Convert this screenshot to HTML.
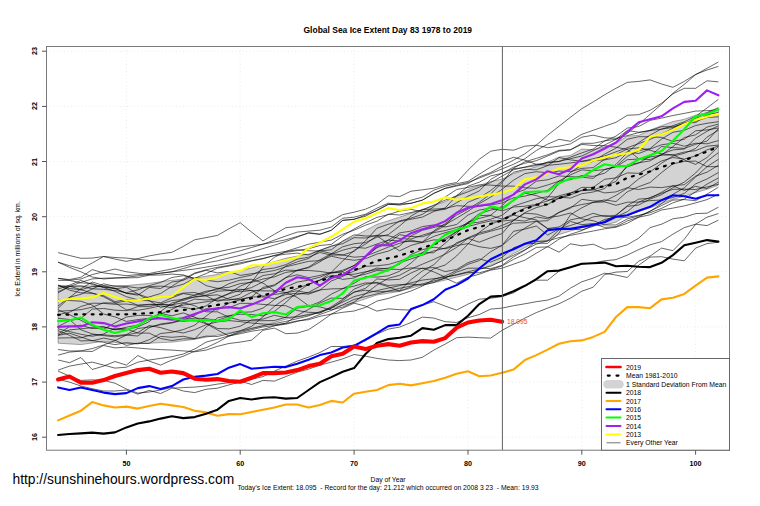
<!DOCTYPE html><html><head><meta charset="utf-8"><title>Global Sea Ice Extent</title><style>
html,body{margin:0;padding:0;background:#fff}
#c{position:relative;width:760px;height:506px;overflow:hidden;background:#fff;font-family:"Liberation Sans",Arial,sans-serif;color:#000}
.t{position:absolute;white-space:nowrap;line-height:1}
.c{transform:translateX(-50%)}
.r{transform:translate(-50%,-50%) rotate(-90deg)}
</style></head><body><div id="c">
<svg width="760" height="506" viewBox="0 0 760 506" style="position:absolute;left:0;top:0">
<line x1="46.5" x2="729.5" y1="437.2" y2="437.2" stroke="#e9e9e9" stroke-width="0.9" stroke-dasharray="1 2.5"/>
<line x1="46.5" x2="729.5" y1="382.1" y2="382.1" stroke="#e9e9e9" stroke-width="0.9" stroke-dasharray="1 2.5"/>
<line x1="46.5" x2="729.5" y1="326.9" y2="326.9" stroke="#e9e9e9" stroke-width="0.9" stroke-dasharray="1 2.5"/>
<line x1="46.5" x2="729.5" y1="271.8" y2="271.8" stroke="#e9e9e9" stroke-width="0.9" stroke-dasharray="1 2.5"/>
<line x1="46.5" x2="729.5" y1="216.7" y2="216.7" stroke="#e9e9e9" stroke-width="0.9" stroke-dasharray="1 2.5"/>
<line x1="46.5" x2="729.5" y1="161.5" y2="161.5" stroke="#e9e9e9" stroke-width="0.9" stroke-dasharray="1 2.5"/>
<line x1="46.5" x2="729.5" y1="106.4" y2="106.4" stroke="#e9e9e9" stroke-width="0.9" stroke-dasharray="1 2.5"/>
<line x1="46.5" x2="729.5" y1="51.2" y2="51.2" stroke="#e9e9e9" stroke-width="0.9" stroke-dasharray="1 2.5"/>
<line y1="46.5" y2="450" x1="126.4" x2="126.4" stroke="#e9e9e9" stroke-width="0.9" stroke-dasharray="1 2.5"/>
<line y1="46.5" y2="450" x1="240.2" x2="240.2" stroke="#e9e9e9" stroke-width="0.9" stroke-dasharray="1 2.5"/>
<line y1="46.5" y2="450" x1="354.1" x2="354.1" stroke="#e9e9e9" stroke-width="0.9" stroke-dasharray="1 2.5"/>
<line y1="46.5" y2="450" x1="468.0" x2="468.0" stroke="#e9e9e9" stroke-width="0.9" stroke-dasharray="1 2.5"/>
<line y1="46.5" y2="450" x1="581.8" x2="581.8" stroke="#e9e9e9" stroke-width="0.9" stroke-dasharray="1 2.5"/>
<line y1="46.5" y2="450" x1="695.6" x2="695.6" stroke="#e9e9e9" stroke-width="0.9" stroke-dasharray="1 2.5"/>
<path d="M58.1 286.7 L69.5 286.3 L80.9 286.0 L92.2 285.9 L103.6 285.8 L115.0 285.7 L126.4 285.6 L137.8 284.5 L149.2 283.4 L160.6 281.8 L171.9 280.3 L183.3 279.2 L194.7 278.1 L206.1 276.2 L217.5 274.4 L228.9 272.5 L240.2 270.7 L251.6 267.9 L263.0 265.0 L274.4 261.7 L285.8 258.3 L297.2 256.1 L308.6 253.9 L319.9 250.2 L331.3 246.4 L342.7 241.5 L354.1 236.5 L365.5 230.4 L376.9 224.4 L388.3 220.8 L399.6 217.2 L411.0 213.3 L422.4 209.5 L433.8 205.6 L445.2 201.8 L456.6 195.6 L468.0 189.4 L479.3 185.4 L490.7 181.5 L502.1 179.1 L513.5 173.6 L524.9 170.2 L536.3 166.7 L547.6 162.1 L559.0 157.1 L570.4 155.4 L581.8 149.1 L593.2 149.7 L604.6 146.9 L616.0 143.3 L627.3 136.1 L638.7 135.4 L650.1 130.1 L661.5 125.7 L672.9 121.6 L684.3 119.3 L695.6 115.2 L707.0 112.3 L718.4 108.6 L718.4 185.2 L707.0 189.3 L695.6 192.5 L684.3 196.2 L672.9 199.3 L661.5 203.5 L650.1 207.8 L638.7 211.5 L627.3 215.2 L616.0 222.2 L604.6 224.9 L593.2 225.8 L581.8 227.7 L570.4 231.0 L559.0 234.6 L547.6 240.4 L536.3 241.7 L524.9 247.6 L513.5 253.6 L502.1 261.0 L490.7 265.3 L479.3 269.8 L468.0 274.3 L456.6 277.2 L445.2 280.1 L433.8 282.6 L422.4 285.0 L411.0 288.2 L399.6 291.4 L388.3 293.2 L376.9 295.0 L365.5 298.8 L354.1 302.7 L342.7 305.4 L331.3 308.2 L319.9 311.7 L308.6 315.3 L297.2 317.2 L285.8 319.2 L274.4 322.4 L263.0 325.6 L251.6 328.2 L240.2 330.8 L228.9 332.9 L217.5 335.0 L206.1 337.2 L194.7 339.3 L183.3 340.7 L171.9 342.1 L160.6 342.6 L149.2 343.2 L137.8 343.4 L126.4 343.5 L115.0 342.4 L103.6 341.3 L92.2 342.9 L80.9 344.6 L69.5 343.9 L58.1 343.2 Z" fill="#d3d3d3" stroke="#555" stroke-width="0.5"/>
<path d="M58.1 252.6 L69.5 255.5 L80.9 258.3 L92.2 258.1 L103.6 256.5 L115.0 259.1 L126.4 261.4 L137.8 258.6 L149.2 255.9 L160.6 253.9 L171.9 252.3 L183.3 246.4 L194.7 239.8 L206.1 237.6 L217.5 235.4 L228.9 228.8 L240.2 222.7 L251.6 232.1 L263.0 240.9 L274.4 234.3 L285.8 227.7 L297.2 226.6 L308.6 225.2 L319.9 223.2 L331.3 221.2 L342.7 214.6 L354.1 212.2 L365.5 209.2 L376.9 204.2 L388.3 195.8 L399.6 196.6 L411.0 191.2 L422.4 189.8 L433.8 188.2 L445.2 184.7 L456.6 182.5 L468.0 170.2 L479.3 159.2 L490.7 151.2 L502.1 149.3 L513.5 150.2 L524.9 146.2 L536.3 145.2 L547.6 147.7 L559.0 146.2 L570.4 143.9 L581.8 137.2 L593.2 135.2 L604.6 137.8 L616.0 138.3 L627.3 135.6 L638.7 132.7 L650.1 130.3 L661.5 129.3 L672.9 125.7 L684.3 121.8 L695.6 116.3 L707.0 108.0 L718.4 99.3" fill="none" stroke="#000" stroke-width="0.6"/>
<path d="M58.1 262.2 L69.5 265.7 L80.9 268.8 L92.2 263.0 L103.6 256.5 L115.0 257.5 L126.4 258.1 L137.8 259.3 L149.2 260.5 L160.6 260.1 L171.9 259.7 L183.3 257.5 L194.7 255.3 L206.1 253.6 L217.5 251.9 L228.9 249.5 L240.2 247.0 L251.6 245.6 L263.0 244.2 L274.4 242.0 L285.8 239.8 L297.2 236.5 L308.6 233.2 L319.9 234.3 L331.3 230.4 L342.7 220.5 L354.1 219.4 L365.5 215.0 L376.9 210.6 L388.3 204.5 L399.6 204.0 L411.0 203.4 L422.4 200.1 L433.8 193.5 L445.2 188.5 L456.6 186.0 L468.0 183.6 L479.3 176.9 L490.7 172.5 L502.1 166.2 L513.5 160.2 L524.9 153.8 L536.3 145.2 L547.6 135.2 L559.0 126.3 L570.4 117.3 L581.8 108.7 L593.2 101.9 L604.6 94.8 L616.0 88.3 L627.3 82.4 L638.7 81.4 L650.1 79.9 L661.5 84.0 L672.9 87.3 L684.3 81.4 L695.6 74.4 L707.0 70.0 L718.4 66.4" fill="none" stroke="#000" stroke-width="0.6"/>
<path d="M58.1 278.3 L69.5 280.2 L80.9 279.0 L92.2 274.6 L103.6 271.8 L115.0 269.0 L126.4 271.8 L137.8 273.2 L149.2 274.6 L160.6 273.2 L171.9 271.8 L183.3 270.4 L194.7 269.0 L206.1 267.1 L217.5 265.2 L228.9 263.0 L240.2 260.8 L251.6 258.0 L263.0 255.3 L274.4 253.3 L285.8 251.4 L297.2 247.8 L308.6 244.2 L319.9 242.2 L331.3 240.1 L342.7 234.2 L354.1 230.2 L365.5 225.2 L376.9 221.2 L388.3 214.2 L399.6 215.0 L411.0 212.5 L422.4 210.0 L433.8 205.1 L445.2 200.1 L456.6 196.0 L468.0 191.8 L479.3 187.1 L490.7 182.5 L502.1 176.1 L513.5 169.8 L524.9 167.0 L536.3 164.3 L547.6 162.9 L559.0 161.5 L570.4 158.7 L581.8 156.0 L593.2 150.5 L604.6 145.0 L616.0 139.4 L627.3 133.4 L638.7 124.3 L650.1 114.3 L661.5 104.3 L672.9 93.3 L684.3 84.3 L695.6 74.7 L707.0 68.3 L718.4 62.0" fill="none" stroke="#000" stroke-width="0.6"/>
<path d="M58.1 262.2 L69.5 267.4 L80.9 271.8 L92.2 277.0 L103.6 279.0 L115.0 278.1 L126.4 277.3 L137.8 275.9 L149.2 274.6 L160.6 273.2 L171.9 271.8 L183.3 268.5 L194.7 265.2 L206.1 263.0 L217.5 260.8 L228.9 258.0 L240.2 255.3 L251.6 251.9 L263.0 248.6 L274.4 245.1 L285.8 241.5 L297.2 237.2 L308.6 232.6 L319.9 234.2 L331.3 230.2 L342.7 220.2 L354.1 219.2 L365.5 216.2 L376.9 210.2 L388.3 204.2 L399.6 205.1 L411.0 203.2 L422.4 200.2 L433.8 193.2 L445.2 188.2 L456.6 185.3 L468.0 182.5 L479.3 178.0 L490.7 173.6 L502.1 168.9 L513.5 164.3 L524.9 158.7 L536.3 150.5 L547.6 144.2 L559.0 139.3 L570.4 141.3 L581.8 134.3 L593.2 130.3 L604.6 126.3 L616.0 122.3 L627.3 115.3 L638.7 114.7 L650.1 110.3 L661.5 103.3 L672.9 93.9 L684.3 88.3 L695.6 88.3 L707.0 80.8 L718.4 81.9" fill="none" stroke="#000" stroke-width="0.6"/>
<path d="M58.1 278.4 L69.5 279.5 L80.9 277.3 L92.2 269.6 L103.6 272.9 L115.0 274.3 L126.4 275.7 L137.8 274.6 L149.2 273.5 L160.6 271.2 L171.9 269.0 L183.3 266.3 L194.7 263.5 L206.1 259.9 L217.5 256.4 L228.9 253.6 L240.2 250.8 L251.6 247.5 L263.0 244.2 L274.4 240.1 L285.8 236.0 L297.2 232.1 L308.6 231.1 L319.9 230.2 L331.3 227.1 L342.7 218.2 L354.1 217.2 L365.5 214.2 L376.9 208.2 L388.3 203.2 L399.6 204.2 L411.0 200.2 L422.4 197.2 L433.8 190.2 L445.2 186.2 L456.6 183.8 L468.0 181.4 L479.3 174.2 L490.7 167.0 L502.1 161.5 L513.5 157.3 L524.9 160.2 L536.3 164.3 L547.6 165.3 L559.0 164.3 L570.4 162.9 L581.8 161.5 L593.2 158.7 L604.6 156.0 L616.0 151.8 L627.3 147.7 L638.7 143.6 L650.1 139.4 L661.5 133.9 L672.9 128.4 L684.3 123.4 L695.6 118.5 L707.0 113.0 L718.4 107.5" fill="none" stroke="#000" stroke-width="0.6"/>
<path d="M58.1 355.1 L69.5 352.1 L80.9 351.1 L92.2 351.5 L103.6 345.5 L115.0 347.9 L126.4 347.1 L137.8 348.0 L149.2 349.0 L160.6 349.6 L171.9 350.1 L183.3 350.9 L194.7 351.8 L206.1 350.1 L217.5 346.3 L228.9 343.5 L240.2 342.1 L251.6 340.2 L263.0 330.3 L274.4 328.1 L285.8 333.7 L297.2 333.1 L308.6 329.7 L319.9 322.2 L331.3 314.2 L342.7 308.2 L354.1 303.2 L365.5 306.1 L376.9 311.1 L388.3 308.8 L399.6 309.7 L411.0 310.1 L422.4 305.1 L433.8 301.7 L445.2 306.1 L456.6 310.1 L468.0 304.1 L479.3 299.2 L490.7 298.2 L502.1 296.6 L513.5 292.8 L524.9 286.1 L536.3 280.2 L547.6 280.2 L559.0 271.2 L570.4 267.4 L581.8 264.1 L593.2 263.0 L604.6 260.8 L616.0 259.6 L627.3 255.1 L638.7 249.6 L650.1 244.8 L661.5 241.6 L672.9 234.2 L684.3 227.6 L695.6 224.2 L707.0 217.2 L718.4 213.6" fill="none" stroke="#000" stroke-width="0.6"/>
<path d="M58.1 360.0 L69.5 362.7 L80.9 357.5 L92.2 369.5 L103.6 366.1 L115.0 361.5 L126.4 365.1 L137.8 355.5 L149.2 361.1 L160.6 365.1 L171.9 360.0 L183.3 356.2 L194.7 351.2 L206.1 347.7 L217.5 342.4 L228.9 336.1 L240.2 332.5 L251.6 329.7 L263.0 326.9 L274.4 325.6 L285.8 324.2 L297.2 321.4 L308.6 318.7 L319.9 314.5 L331.3 310.4 L342.7 304.9 L354.1 299.4 L365.5 296.6 L376.9 293.9 L388.3 291.1 L399.6 288.3 L411.0 286.1 L422.4 283.9 L433.8 281.0 L445.2 278.1 L456.6 283.2 L468.0 277.3 L479.3 274.2 L490.7 270.1 L502.1 268.2 L513.5 264.2 L524.9 260.2 L536.3 253.2 L547.6 246.6 L559.0 252.2 L570.4 243.8 L581.8 245.8 L593.2 244.2 L604.6 249.2 L616.0 248.1 L627.3 244.8 L638.7 238.2 L650.1 227.6 L661.5 224.2 L672.9 218.8 L684.3 217.2 L695.6 213.6 L707.0 213.2 L718.4 207.2" fill="none" stroke="#000" stroke-width="0.6"/>
<path d="M58.1 370.1 L69.5 366.1 L80.9 364.1 L92.2 362.1 L103.6 365.1 L115.0 368.1 L126.4 367.2 L137.8 362.2 L149.2 360.0 L160.6 358.4 L171.9 356.7 L183.3 354.0 L194.7 349.0 L206.1 342.1 L217.5 339.1 L228.9 335.8 L240.2 331.4 L251.6 328.6 L263.0 325.8 L274.4 323.6 L285.8 321.4 L297.2 318.7 L308.6 315.9 L319.9 311.8 L331.3 307.6 L342.7 302.1 L354.1 296.6 L365.5 293.6 L376.9 290.6 L388.3 288.1 L399.6 285.6 L411.0 282.8 L422.4 280.1 L433.8 278.7 L445.2 277.3 L456.6 274.6 L468.0 271.8 L479.3 269.0 L490.7 266.3 L502.1 260.8 L513.5 255.3 L524.9 249.7 L536.3 244.2 L547.6 240.9 L559.0 237.6 L570.4 235.4 L581.8 233.2 L593.2 231.0 L604.6 228.8 L616.0 227.2 L627.3 223.3 L638.7 217.2 L650.1 211.1 L661.5 205.6 L672.9 200.1 L684.3 199.6 L695.6 200.7 L707.0 194.2 L718.4 187.2" fill="none" stroke="#000" stroke-width="0.6"/>
<path d="M58.1 371.1 L69.5 376.1 L80.9 380.4 L92.2 379.9 L103.6 380.4 L115.0 383.2 L126.4 389.0 L137.8 393.1 L149.2 392.0 L160.6 390.0 L171.9 387.4 L183.3 391.0 L194.7 392.6 L206.1 389.3 L217.5 388.2 L228.9 384.9 L240.2 382.1 L251.6 379.3 L263.0 376.6 L274.4 371.1 L285.8 366.1 L297.2 361.1 L308.6 357.1 L319.9 352.5 L331.3 346.5 L342.7 346.5 L354.1 345.1 L365.5 340.7 L376.9 334.1 L388.3 329.1 L399.6 327.1 L411.0 322.5 L422.4 317.1 L433.8 318.1 L445.2 321.7 L456.6 322.5 L468.0 317.7 L479.3 314.5 L490.7 309.1 L502.1 308.1 L513.5 305.7 L524.9 303.8 L536.3 301.7 L547.6 300.1 L559.0 296.2 L570.4 288.2 L581.8 281.8 L593.2 278.1 L604.6 273.2 L616.0 275.1 L627.3 277.5 L638.7 265.2 L650.1 257.1 L661.5 256.7 L672.9 259.1 L684.3 260.8 L695.6 248.1 L707.0 243.6 L718.4 242.2" fill="none" stroke="#000" stroke-width="0.6"/>
<path d="M58.1 379.3 L69.5 382.1 L80.9 386.0 L92.2 388.7 L103.6 391.0 L115.0 391.0 L126.4 390.0 L137.8 394.1 L149.2 390.4 L160.6 393.5 L171.9 388.2 L183.3 387.6 L194.7 387.1 L206.1 386.0 L217.5 384.1 L228.9 382.7 L240.2 381.1 L251.6 384.5 L263.0 380.4 L274.4 381.1 L285.8 376.6 L297.2 372.1 L308.6 369.1 L319.9 365.1 L331.3 362.2 L342.7 358.9 L354.1 354.5 L365.5 356.2 L376.9 358.4 L388.3 360.0 L399.6 360.6 L411.0 360.0 L422.4 357.3 L433.8 350.1 L445.2 344.1 L456.6 337.7 L468.0 337.1 L479.3 337.7 L490.7 338.1 L502.1 330.3 L513.5 324.2 L524.9 318.1 L536.3 312.6 L547.6 308.1 L559.0 303.8 L570.4 298.2 L581.8 291.2 L593.2 287.2 L604.6 274.6 L616.0 272.1 L627.3 271.5 L638.7 261.2 L650.1 256.1 L661.5 248.1 L672.9 250.7 L684.3 239.2 L695.6 224.2 L707.0 225.6 L718.4 220.2" fill="none" stroke="#000" stroke-width="0.6"/>
<path d="M58.1 349.5 L69.5 351.0 L80.9 350.9 L92.2 348.6 L103.6 345.0 L115.0 340.5 L126.4 335.1 L137.8 332.6 L149.2 325.5 L160.6 327.6 L171.9 331.0 L183.3 333.0 L194.7 329.7 L206.1 324.7 L217.5 321.9 L228.9 320.6 L240.2 321.6 L251.6 323.0 L263.0 324.0 L274.4 324.8 L285.8 323.4 L297.2 320.9 L308.6 319.7 L319.9 316.3 L331.3 314.1 L342.7 312.3 L354.1 311.0 L365.5 307.4 L376.9 301.1 L388.3 298.4 L399.6 294.7 L411.0 291.0 L422.4 286.1 L433.8 279.4 L445.2 275.9 L456.6 270.6 L468.0 264.3 L479.3 260.6 L490.7 251.7 L502.1 245.3 L513.5 231.3 L524.9 229.1 L536.3 226.0 L547.6 235.1 L559.0 228.8 L570.4 225.5 L581.8 221.7 L593.2 216.9 L604.6 215.4 L616.0 217.2 L627.3 217.3 L638.7 215.3 L650.1 212.7 L661.5 208.4 L672.9 202.8 L684.3 199.1 L695.6 191.8 L707.0 184.1 L718.4 178.0" fill="none" stroke="#000" stroke-width="0.6"/>
<path d="M58.1 328.8 L69.5 331.6 L80.9 334.3 L92.2 336.3 L103.6 334.0 L115.0 328.1 L126.4 328.9 L137.8 333.1 L149.2 333.1 L160.6 338.5 L171.9 340.5 L183.3 338.8 L194.7 338.9 L206.1 327.0 L217.5 317.9 L228.9 315.6 L240.2 314.2 L251.6 314.5 L263.0 315.9 L274.4 311.3 L285.8 302.5 L297.2 292.0 L308.6 284.3 L319.9 280.0 L331.3 275.6 L342.7 279.4 L354.1 278.0 L365.5 272.3 L376.9 268.0 L388.3 269.1 L399.6 269.5 L411.0 267.9 L422.4 268.5 L433.8 267.5 L445.2 271.6 L456.6 269.5 L468.0 262.7 L479.3 258.9 L490.7 262.1 L502.1 257.3 L513.5 247.8 L524.9 244.1 L536.3 243.1 L547.6 243.4 L559.0 233.0 L570.4 214.8 L581.8 207.8 L593.2 202.2 L604.6 199.9 L616.0 201.6 L627.3 191.8 L638.7 186.7 L650.1 182.5 L661.5 172.6 L672.9 163.8 L684.3 161.4 L695.6 161.1 L707.0 166.7 L718.4 166.6" fill="none" stroke="#000" stroke-width="0.6"/>
<path d="M58.1 335.2 L69.5 329.9 L80.9 328.8 L92.2 327.6 L103.6 329.3 L115.0 322.9 L126.4 317.0 L137.8 315.4 L149.2 315.4 L160.6 318.3 L171.9 319.2 L183.3 321.4 L194.7 320.0 L206.1 323.8 L217.5 329.9 L228.9 336.1 L240.2 333.7 L251.6 331.2 L263.0 329.5 L274.4 325.8 L285.8 323.2 L297.2 315.5 L308.6 309.3 L319.9 303.0 L331.3 298.1 L342.7 298.4 L354.1 292.3 L365.5 288.3 L376.9 278.9 L388.3 279.9 L399.6 279.3 L411.0 273.0 L422.4 268.0 L433.8 271.9 L445.2 277.1 L456.6 275.1 L468.0 272.4 L479.3 272.8 L490.7 269.6 L502.1 266.0 L513.5 259.4 L524.9 254.0 L536.3 247.4 L547.6 246.9 L559.0 239.1 L570.4 234.3 L581.8 230.6 L593.2 225.0 L604.6 219.5 L616.0 216.8 L627.3 211.7 L638.7 202.2 L650.1 197.4 L661.5 193.3 L672.9 189.3 L684.3 189.2 L695.6 189.5 L707.0 186.9 L718.4 184.3" fill="none" stroke="#000" stroke-width="0.6"/>
<path d="M58.1 334.0 L69.5 326.7 L80.9 325.2 L92.2 328.6 L103.6 326.7 L115.0 329.8 L126.4 327.2 L137.8 325.2 L149.2 319.5 L160.6 313.4 L171.9 315.8 L183.3 312.9 L194.7 317.1 L206.1 323.1 L217.5 328.5 L228.9 328.9 L240.2 326.2 L251.6 319.9 L263.0 319.1 L274.4 315.3 L285.8 317.6 L297.2 316.7 L308.6 314.4 L319.9 313.1 L331.3 306.8 L342.7 299.3 L354.1 289.2 L365.5 284.3 L376.9 282.3 L388.3 285.5 L399.6 284.7 L411.0 284.1 L422.4 285.1 L433.8 282.5 L445.2 278.0 L456.6 272.1 L468.0 268.2 L479.3 268.2 L490.7 268.6 L502.1 265.3 L513.5 256.9 L524.9 250.3 L536.3 241.4 L547.6 241.2 L559.0 229.7 L570.4 221.4 L581.8 224.7 L593.2 223.5 L604.6 227.4 L616.0 226.7 L627.3 220.9 L638.7 217.2 L650.1 214.8 L661.5 210.0 L672.9 208.1 L684.3 205.9 L695.6 202.9 L707.0 199.6 L718.4 194.2" fill="none" stroke="#000" stroke-width="0.6"/>
<path d="M58.1 330.7 L69.5 335.3 L80.9 340.9 L92.2 340.6 L103.6 342.3 L115.0 344.7 L126.4 342.6 L137.8 343.9 L149.2 339.7 L160.6 333.5 L171.9 332.3 L183.3 329.6 L194.7 325.2 L206.1 316.1 L217.5 307.7 L228.9 307.7 L240.2 303.3 L251.6 303.4 L263.0 304.4 L274.4 305.4 L285.8 305.7 L297.2 310.5 L308.6 312.3 L319.9 312.8 L331.3 308.4 L342.7 300.7 L354.1 291.9 L365.5 290.3 L376.9 291.9 L388.3 291.2 L399.6 290.8 L411.0 279.6 L422.4 270.9 L433.8 264.7 L445.2 253.4 L456.6 242.7 L468.0 238.4 L479.3 234.3 L490.7 231.2 L502.1 228.1 L513.5 223.2 L524.9 222.7 L536.3 221.2 L547.6 228.5 L559.0 227.0 L570.4 219.9 L581.8 217.6 L593.2 213.3 L604.6 216.7 L616.0 215.1 L627.3 206.4 L638.7 205.0 L650.1 199.1 L661.5 194.7 L672.9 187.7 L684.3 182.1 L695.6 173.0 L707.0 161.1 L718.4 152.7" fill="none" stroke="#000" stroke-width="0.6"/>
<path d="M58.1 314.7 L69.5 312.2 L80.9 306.5 L92.2 303.2 L103.6 303.4 L115.0 304.3 L126.4 304.0 L137.8 305.4 L149.2 304.8 L160.6 304.3 L171.9 304.8 L183.3 302.7 L194.7 305.7 L206.1 311.8 L217.5 311.8 L228.9 317.2 L240.2 320.3 L251.6 320.8 L263.0 320.7 L274.4 320.5 L285.8 317.2 L297.2 308.1 L308.6 306.4 L319.9 301.8 L331.3 294.2 L342.7 288.6 L354.1 283.3 L365.5 276.6 L376.9 277.1 L388.3 275.8 L399.6 271.2 L411.0 263.1 L422.4 252.6 L433.8 244.3 L445.2 238.3 L456.6 231.5 L468.0 226.5 L479.3 223.5 L490.7 220.9 L502.1 221.1 L513.5 219.9 L524.9 221.1 L536.3 216.9 L547.6 218.8 L559.0 212.3 L570.4 207.2 L581.8 204.5 L593.2 202.5 L604.6 201.9 L616.0 205.3 L627.3 202.2 L638.7 202.1 L650.1 200.6 L661.5 200.0 L672.9 197.5 L684.3 193.4 L695.6 183.9 L707.0 179.0 L718.4 172.5" fill="none" stroke="#000" stroke-width="0.6"/>
<path d="M58.1 326.5 L69.5 320.7 L80.9 318.4 L92.2 309.1 L103.6 308.5 L115.0 310.2 L126.4 310.7 L137.8 306.6 L149.2 306.6 L160.6 304.1 L171.9 300.5 L183.3 299.5 L194.7 294.9 L206.1 291.2 L217.5 289.7 L228.9 283.7 L240.2 280.1 L251.6 279.3 L263.0 283.1 L274.4 290.6 L285.8 292.5 L297.2 297.4 L308.6 305.8 L319.9 306.9 L331.3 309.9 L342.7 307.1 L354.1 302.0 L365.5 293.8 L376.9 285.0 L388.3 278.3 L399.6 275.3 L411.0 269.1 L422.4 264.2 L433.8 259.4 L445.2 254.1 L456.6 247.4 L468.0 238.4 L479.3 242.2 L490.7 237.7 L502.1 233.6 L513.5 220.2 L524.9 213.2 L536.3 214.1 L547.6 217.6 L559.0 216.0 L570.4 213.0 L581.8 218.9 L593.2 220.7 L604.6 224.9 L616.0 225.0 L627.3 218.9 L638.7 215.9 L650.1 211.4 L661.5 203.8 L672.9 194.3 L684.3 187.8 L695.6 177.0 L707.0 166.7 L718.4 159.3" fill="none" stroke="#000" stroke-width="0.6"/>
<path d="M58.1 335.4 L69.5 333.2 L80.9 337.0 L92.2 340.8 L103.6 338.1 L115.0 340.3 L126.4 345.4 L137.8 343.2 L149.2 343.5 L160.6 336.4 L171.9 337.3 L183.3 336.3 L194.7 338.7 L206.1 336.1 L217.5 336.5 L228.9 333.8 L240.2 330.8 L251.6 326.4 L263.0 316.8 L274.4 306.3 L285.8 298.3 L297.2 294.6 L308.6 292.3 L319.9 286.3 L331.3 276.0 L342.7 274.7 L354.1 274.2 L365.5 271.8 L376.9 269.5 L388.3 268.1 L399.6 264.2 L411.0 254.5 L422.4 249.6 L433.8 247.2 L445.2 248.8 L456.6 245.6 L468.0 243.6 L479.3 246.7 L490.7 248.4 L502.1 245.6 L513.5 235.7 L524.9 228.1 L536.3 221.3 L547.6 220.7 L559.0 212.5 L570.4 208.1 L581.8 199.3 L593.2 200.9 L604.6 201.2 L616.0 195.4 L627.3 188.3 L638.7 178.9 L650.1 172.1 L661.5 163.2 L672.9 156.1 L684.3 153.3 L695.6 148.5 L707.0 137.1 L718.4 130.2" fill="none" stroke="#000" stroke-width="0.6"/>
<path d="M58.1 338.0 L69.5 337.8 L80.9 337.8 L92.2 334.7 L103.6 334.8 L115.0 335.7 L126.4 334.6 L137.8 328.5 L149.2 327.0 L160.6 324.7 L171.9 323.0 L183.3 320.0 L194.7 315.3 L206.1 308.7 L217.5 309.9 L228.9 303.0 L240.2 299.8 L251.6 296.9 L263.0 287.4 L274.4 284.9 L285.8 277.5 L297.2 274.8 L308.6 277.7 L319.9 275.4 L331.3 272.5 L342.7 272.0 L354.1 276.7 L365.5 274.2 L376.9 270.6 L388.3 270.9 L399.6 263.0 L411.0 258.9 L422.4 255.1 L433.8 250.9 L445.2 248.1 L456.6 244.0 L468.0 237.7 L479.3 232.9 L490.7 230.0 L502.1 225.4 L513.5 220.7 L524.9 212.6 L536.3 207.6 L547.6 204.4 L559.0 198.2 L570.4 193.4 L581.8 187.4 L593.2 187.4 L604.6 179.3 L616.0 177.9 L627.3 172.9 L638.7 173.3 L650.1 167.3 L661.5 161.0 L672.9 157.5 L684.3 159.1 L695.6 155.9 L707.0 149.9 L718.4 146.0" fill="none" stroke="#000" stroke-width="0.6"/>
<path d="M58.1 309.8 L69.5 314.7 L80.9 320.3 L92.2 326.0 L103.6 327.1 L115.0 329.6 L126.4 329.7 L137.8 326.9 L149.2 321.7 L160.6 311.6 L171.9 302.9 L183.3 300.4 L194.7 296.8 L206.1 295.1 L217.5 291.2 L228.9 290.5 L240.2 289.3 L251.6 290.5 L263.0 296.2 L274.4 294.5 L285.8 292.7 L297.2 290.8 L308.6 293.1 L319.9 289.9 L331.3 288.9 L342.7 288.6 L354.1 286.1 L365.5 282.9 L376.9 283.1 L388.3 286.8 L399.6 291.1 L411.0 287.1 L422.4 277.1 L433.8 268.7 L445.2 265.0 L456.6 256.0 L468.0 244.1 L479.3 232.3 L490.7 224.2 L502.1 219.8 L513.5 215.1 L524.9 217.7 L536.3 219.9 L547.6 228.6 L559.0 229.8 L570.4 229.0 L581.8 229.9 L593.2 226.4 L604.6 221.0 L616.0 215.5 L627.3 205.7 L638.7 199.1 L650.1 198.3 L661.5 192.3 L672.9 185.7 L684.3 184.7 L695.6 176.2 L707.0 172.2 L718.4 165.2" fill="none" stroke="#000" stroke-width="0.6"/>
<path d="M58.1 289.0 L69.5 285.2 L80.9 280.4 L92.2 284.5 L103.6 287.3 L115.0 288.2 L126.4 293.4 L137.8 294.0 L149.2 298.0 L160.6 297.1 L171.9 296.2 L183.3 293.1 L194.7 292.5 L206.1 295.8 L217.5 294.8 L228.9 299.3 L240.2 299.3 L251.6 296.9 L263.0 296.9 L274.4 298.6 L285.8 294.5 L297.2 293.2 L308.6 294.2 L319.9 290.2 L331.3 281.0 L342.7 276.4 L354.1 271.0 L365.5 266.3 L376.9 265.8 L388.3 264.5 L399.6 261.2 L411.0 256.7 L422.4 252.7 L433.8 252.8 L445.2 243.2 L456.6 233.3 L468.0 222.6 L479.3 213.6 L490.7 210.1 L502.1 207.5 L513.5 200.4 L524.9 193.1 L536.3 195.6 L547.6 200.1 L559.0 198.5 L570.4 195.0 L581.8 190.2 L593.2 189.5 L604.6 192.9 L616.0 191.9 L627.3 187.7 L638.7 189.5 L650.1 187.1 L661.5 187.6 L672.9 185.9 L684.3 190.4 L695.6 186.4 L707.0 188.6 L718.4 182.1" fill="none" stroke="#000" stroke-width="0.6"/>
<path d="M58.1 318.2 L69.5 319.5 L80.9 329.8 L92.2 333.9 L103.6 335.6 L115.0 336.9 L126.4 335.1 L137.8 336.0 L149.2 327.7 L160.6 324.0 L171.9 322.4 L183.3 319.5 L194.7 318.1 L206.1 318.7 L217.5 320.4 L228.9 316.4 L240.2 312.4 L251.6 311.9 L263.0 308.1 L274.4 299.6 L285.8 292.9 L297.2 288.4 L308.6 284.1 L319.9 280.3 L331.3 272.7 L342.7 270.2 L354.1 265.7 L365.5 257.2 L376.9 247.3 L388.3 240.2 L399.6 232.9 L411.0 231.1 L422.4 226.6 L433.8 224.9 L445.2 227.0 L456.6 224.5 L468.0 215.0 L479.3 210.1 L490.7 208.0 L502.1 210.9 L513.5 207.0 L524.9 206.2 L536.3 204.5 L547.6 200.9 L559.0 195.8 L570.4 192.8 L581.8 190.7 L593.2 190.0 L604.6 185.8 L616.0 181.5 L627.3 164.9 L638.7 162.8 L650.1 160.9 L661.5 154.2 L672.9 149.9 L684.3 149.0 L695.6 138.2 L707.0 131.3 L718.4 125.8" fill="none" stroke="#000" stroke-width="0.6"/>
<path d="M58.1 311.3 L69.5 310.6 L80.9 309.7 L92.2 307.2 L103.6 302.8 L115.0 303.1 L126.4 300.8 L137.8 305.2 L149.2 304.3 L160.6 304.3 L171.9 305.7 L183.3 307.3 L194.7 309.4 L206.1 305.9 L217.5 298.0 L228.9 293.5 L240.2 286.2 L251.6 281.5 L263.0 275.5 L274.4 273.8 L285.8 270.1 L297.2 270.5 L308.6 270.5 L319.9 271.4 L331.3 273.2 L342.7 271.5 L354.1 265.3 L365.5 256.1 L376.9 251.8 L388.3 247.1 L399.6 243.3 L411.0 240.1 L422.4 242.6 L433.8 239.9 L445.2 240.1 L456.6 231.8 L468.0 223.2 L479.3 215.7 L490.7 215.2 L502.1 205.8 L513.5 193.6 L524.9 189.6 L536.3 181.2 L547.6 179.8 L559.0 175.9 L570.4 176.7 L581.8 177.1 L593.2 178.4 L604.6 169.5 L616.0 166.9 L627.3 159.7 L638.7 159.0 L650.1 157.0 L661.5 155.1 L672.9 155.0 L684.3 152.1 L695.6 150.6 L707.0 146.2 L718.4 145.1" fill="none" stroke="#000" stroke-width="0.6"/>
<path d="M58.1 285.7 L69.5 286.1 L80.9 289.7 L92.2 293.0 L103.6 296.7 L115.0 302.8 L126.4 309.9 L137.8 310.3 L149.2 308.3 L160.6 305.8 L171.9 307.8 L183.3 305.1 L194.7 303.5 L206.1 301.8 L217.5 300.1 L228.9 300.2 L240.2 298.1 L251.6 292.2 L263.0 288.8 L274.4 285.7 L285.8 277.8 L297.2 270.0 L308.6 267.8 L319.9 261.9 L331.3 254.3 L342.7 250.2 L354.1 247.3 L365.5 248.2 L376.9 244.0 L388.3 240.1 L399.6 241.1 L411.0 241.5 L422.4 242.0 L433.8 236.4 L445.2 232.7 L456.6 229.8 L468.0 222.1 L479.3 218.4 L490.7 215.5 L502.1 219.0 L513.5 214.1 L524.9 208.0 L536.3 205.3 L547.6 197.7 L559.0 183.6 L570.4 172.6 L581.8 164.9 L593.2 161.3 L604.6 154.2 L616.0 148.1 L627.3 139.3 L638.7 136.7 L650.1 136.7 L661.5 137.4 L672.9 141.5 L684.3 139.2 L695.6 130.8 L707.0 129.9 L718.4 128.0" fill="none" stroke="#000" stroke-width="0.6"/>
<path d="M58.1 308.3 L69.5 297.5 L80.9 288.7 L92.2 282.0 L103.6 285.5 L115.0 288.5 L126.4 293.3 L137.8 295.2 L149.2 287.4 L160.6 288.5 L171.9 282.0 L183.3 280.4 L194.7 273.7 L206.1 270.3 L217.5 272.9 L228.9 271.4 L240.2 275.4 L251.6 273.7 L263.0 272.4 L274.4 270.5 L285.8 266.8 L297.2 264.1 L308.6 261.3 L319.9 260.7 L331.3 256.2 L342.7 258.7 L354.1 260.3 L365.5 258.7 L376.9 254.1 L388.3 251.1 L399.6 246.0 L411.0 235.9 L422.4 230.3 L433.8 227.5 L445.2 224.7 L456.6 218.2 L468.0 211.3 L479.3 203.6 L490.7 197.1 L502.1 189.3 L513.5 180.2 L524.9 173.6 L536.3 171.7 L547.6 172.7 L559.0 171.1 L570.4 171.7 L581.8 168.4 L593.2 167.6 L604.6 159.3 L616.0 154.5 L627.3 149.0 L638.7 147.8 L650.1 150.2 L661.5 154.0 L672.9 154.8 L684.3 160.0 L695.6 164.4 L707.0 157.5 L718.4 146.5" fill="none" stroke="#000" stroke-width="0.6"/>
<path d="M58.1 300.0 L69.5 300.5 L80.9 301.2 L92.2 305.1 L103.6 314.0 L115.0 316.9 L126.4 321.4 L137.8 319.6 L149.2 318.3 L160.6 314.0 L171.9 309.5 L183.3 303.5 L194.7 299.1 L206.1 300.0 L217.5 298.9 L228.9 293.8 L240.2 290.3 L251.6 287.6 L263.0 281.8 L274.4 275.4 L285.8 266.1 L297.2 261.8 L308.6 258.5 L319.9 250.7 L331.3 253.6 L342.7 255.0 L354.1 257.2 L365.5 256.4 L376.9 247.9 L388.3 242.8 L399.6 234.7 L411.0 236.5 L422.4 236.8 L433.8 232.6 L445.2 230.6 L456.6 227.5 L468.0 223.5 L479.3 222.1 L490.7 219.2 L502.1 215.3 L513.5 206.1 L524.9 202.4 L536.3 198.7 L547.6 196.7 L559.0 197.1 L570.4 198.1 L581.8 193.7 L593.2 192.0 L604.6 188.5 L616.0 177.4 L627.3 166.9 L638.7 163.1 L650.1 156.2 L661.5 146.5 L672.9 147.6 L684.3 148.4 L695.6 144.3 L707.0 141.1 L718.4 128.5" fill="none" stroke="#000" stroke-width="0.6"/>
<path d="M58.1 292.9 L69.5 286.5 L80.9 282.4 L92.2 278.9 L103.6 278.2 L115.0 277.9 L126.4 277.9 L137.8 277.6 L149.2 275.2 L160.6 275.0 L171.9 274.1 L183.3 274.9 L194.7 278.5 L206.1 285.6 L217.5 288.4 L228.9 290.1 L240.2 291.8 L251.6 290.4 L263.0 290.9 L274.4 290.9 L285.8 287.0 L297.2 282.1 L308.6 280.1 L319.9 277.2 L331.3 272.3 L342.7 261.0 L354.1 250.4 L365.5 244.2 L376.9 235.8 L388.3 228.6 L399.6 220.9 L411.0 218.1 L422.4 214.4 L433.8 206.7 L445.2 197.0 L456.6 189.5 L468.0 187.4 L479.3 184.9 L490.7 185.1 L502.1 186.1 L513.5 186.1 L524.9 187.8 L536.3 188.3 L547.6 185.0 L559.0 181.2 L570.4 179.7 L581.8 175.5 L593.2 176.4 L604.6 173.2 L616.0 164.4 L627.3 152.5 L638.7 142.6 L650.1 135.1 L661.5 128.9 L672.9 127.6 L684.3 122.9 L695.6 122.6 L707.0 114.8 L718.4 112.4" fill="none" stroke="#000" stroke-width="0.6"/>
<path d="M58.1 280.4 L69.5 280.4 L80.9 282.9 L92.2 283.5 L103.6 287.5 L115.0 291.4 L126.4 296.7 L137.8 299.8 L149.2 300.9 L160.6 302.9 L171.9 297.8 L183.3 293.6 L194.7 295.4 L206.1 292.6 L217.5 288.3 L228.9 287.3 L240.2 283.6 L251.6 282.4 L263.0 279.0 L274.4 276.9 L285.8 272.4 L297.2 270.8 L308.6 267.0 L319.9 259.8 L331.3 253.7 L342.7 246.8 L354.1 243.7 L365.5 242.6 L376.9 237.2 L388.3 234.6 L399.6 226.0 L411.0 216.1 L422.4 209.4 L433.8 209.1 L445.2 208.5 L456.6 205.7 L468.0 206.3 L479.3 206.1 L490.7 205.0 L502.1 203.0 L513.5 197.8 L524.9 196.1 L536.3 193.3 L547.6 190.3 L559.0 181.0 L570.4 174.9 L581.8 169.9 L593.2 170.7 L604.6 169.6 L616.0 166.3 L627.3 156.4 L638.7 150.6 L650.1 148.5 L661.5 139.1 L672.9 132.3 L684.3 130.3 L695.6 125.5 L707.0 123.3 L718.4 121.7" fill="none" stroke="#000" stroke-width="0.6"/>
<path d="M58.1 285.6 L69.5 288.5 L80.9 289.8 L92.2 286.5 L103.6 286.6 L115.0 288.8 L126.4 287.2 L137.8 293.9 L149.2 300.7 L160.6 307.4 L171.9 304.9 L183.3 298.6 L194.7 297.1 L206.1 295.9 L217.5 301.4 L228.9 298.1 L240.2 294.2 L251.6 282.2 L263.0 267.0 L274.4 257.3 L285.8 251.5 L297.2 249.8 L308.6 250.8 L319.9 250.9 L331.3 249.8 L342.7 241.0 L354.1 234.8 L365.5 236.0 L376.9 235.9 L388.3 243.6 L399.6 250.8 L411.0 245.4 L422.4 242.3 L433.8 230.9 L445.2 223.6 L456.6 215.1 L468.0 209.1 L479.3 202.2 L490.7 193.9 L502.1 182.6 L513.5 168.2 L524.9 161.8 L536.3 158.4 L547.6 154.8 L559.0 150.3 L570.4 149.8 L581.8 144.4 L593.2 145.5 L604.6 145.7 L616.0 147.2 L627.3 149.5 L638.7 158.7 L650.1 159.6 L661.5 155.1 L672.9 146.6 L684.3 137.5 L695.6 134.8 L707.0 127.1 L718.4 124.1" fill="none" stroke="#000" stroke-width="0.6"/>
<path d="M58.1 284.9 L69.5 290.2 L80.9 292.8 L92.2 293.4 L103.6 295.7 L115.0 301.6 L126.4 299.6 L137.8 299.7 L149.2 296.9 L160.6 293.5 L171.9 286.3 L183.3 279.0 L194.7 273.0 L206.1 269.8 L217.5 267.3 L228.9 265.4 L240.2 262.7 L251.6 260.6 L263.0 258.4 L274.4 255.6 L285.8 254.2 L297.2 253.1 L308.6 255.0 L319.9 250.4 L331.3 246.0 L342.7 243.7 L354.1 237.7 L365.5 238.0 L376.9 235.3 L388.3 235.8 L399.6 238.6 L411.0 239.1 L422.4 235.2 L433.8 231.7 L445.2 225.7 L456.6 213.0 L468.0 202.2 L479.3 197.7 L490.7 190.6 L502.1 181.1 L513.5 172.3 L524.9 169.3 L536.3 169.8 L547.6 165.7 L559.0 157.5 L570.4 159.9 L581.8 161.2 L593.2 160.4 L604.6 159.9 L616.0 157.7 L627.3 151.9 L638.7 153.5 L650.1 149.1 L661.5 144.8 L672.9 143.2 L684.3 146.2 L695.6 143.2 L707.0 143.8 L718.4 140.6" fill="none" stroke="#000" stroke-width="0.6"/>
<path d="M58.1 291.8 L69.5 286.4 L80.9 285.9 L92.2 288.8 L103.6 289.3 L115.0 290.5 L126.4 292.7 L137.8 289.9 L149.2 285.7 L160.6 282.4 L171.9 277.5 L183.3 275.7 L194.7 278.5 L206.1 280.2 L217.5 281.7 L228.9 280.2 L240.2 277.5 L251.6 275.1 L263.0 269.5 L274.4 268.0 L285.8 264.7 L297.2 259.2 L308.6 257.2 L319.9 252.5 L331.3 255.1 L342.7 255.0 L354.1 251.4 L365.5 240.8 L376.9 228.3 L388.3 224.2 L399.6 221.6 L411.0 219.2 L422.4 217.1 L433.8 211.5 L445.2 207.9 L456.6 195.8 L468.0 186.2 L479.3 182.2 L490.7 175.9 L502.1 173.3 L513.5 167.1 L524.9 163.2 L536.3 160.7 L547.6 156.0 L559.0 151.1 L570.4 149.8 L581.8 143.3 L593.2 143.3 L604.6 140.9 L616.0 139.2 L627.3 130.5 L638.7 132.2 L650.1 130.7 L661.5 126.7 L672.9 126.8 L684.3 123.5 L695.6 121.3 L707.0 117.5 L718.4 116.8" fill="none" stroke="#000" stroke-width="0.6"/>
<path d="M58.1 305.9 L69.5 297.3 L80.9 294.3 L92.2 289.0 L103.6 283.8 L115.0 286.3 L126.4 286.4 L137.8 288.0 L149.2 286.7 L160.6 286.1 L171.9 287.4 L183.3 284.2 L194.7 278.2 L206.1 273.6 L217.5 268.2 L228.9 266.0 L240.2 263.9 L251.6 261.0 L263.0 258.8 L274.4 255.4 L285.8 252.4 L297.2 250.6 L308.6 248.7 L319.9 245.5 L331.3 244.4 L342.7 235.9 L354.1 229.0 L365.5 222.8 L376.9 217.4 L388.3 214.6 L399.6 211.1 L411.0 209.4 L422.4 211.6 L433.8 210.6 L445.2 209.4 L456.6 202.7 L468.0 196.2 L479.3 190.9 L490.7 179.4 L502.1 173.0 L513.5 168.8 L524.9 167.4 L536.3 165.5 L547.6 162.2 L559.0 161.4 L570.4 157.2 L581.8 152.9 L593.2 149.0 L604.6 141.0 L616.0 136.1 L627.3 128.1 L638.7 126.5 L650.1 120.4 L661.5 118.1 L672.9 115.5 L684.3 113.4 L695.6 111.1 L707.0 110.7 L718.4 109.8" fill="none" stroke="#000" stroke-width="0.6"/>
<path d="M58.1 314.8 L69.5 314.5 L80.9 314.3 L92.2 314.3 L103.6 314.3 L115.0 314.3 L126.4 314.3 L137.8 313.7 L149.2 313.2 L160.6 312.2 L171.9 311.2 L183.3 310.0 L194.7 308.8 L206.1 306.8 L217.5 304.9 L228.9 303.0 L240.2 301.0 L251.6 298.3 L263.0 295.5 L274.4 292.2 L285.8 288.9 L297.2 286.8 L308.6 284.6 L319.9 281.0 L331.3 277.3 L342.7 273.7 L354.1 270.1 L365.5 265.5 L376.9 260.8 L388.3 258.3 L399.6 255.8 L411.0 251.9 L422.4 248.1 L433.8 244.2 L445.2 240.4 L456.6 235.3 L468.0 230.2 L479.3 227.0 L490.7 223.9 L502.1 220.5 L513.5 213.9 L524.9 209.3 L536.3 204.7 L547.6 204.5 L559.0 198.2 L570.4 194.0 L581.8 190.2 L593.2 187.8 L604.6 186.3 L616.0 184.1 L627.3 177.7 L638.7 174.6 L650.1 171.4 L661.5 167.2 L672.9 163.3 L684.3 160.4 L695.6 155.8 L707.0 151.6 L718.4 146.6" fill="none" stroke="#000" stroke-width="2.2" stroke-linecap="round" stroke-dasharray="1.9 6.5"/>
<path d="M58.1 300.9 L69.5 299.0 L80.9 298.5 L92.2 297.4 L103.6 293.0 L115.0 297.0 L126.4 300.5 L137.8 300.1 L149.2 298.5 L160.6 297.0 L171.9 296.3 L183.3 287.2 L194.7 279.0 L206.1 280.1 L217.5 277.3 L228.9 272.4 L240.2 271.0 L251.6 265.2 L263.0 265.2 L274.4 262.6 L285.8 260.2 L297.2 257.2 L308.6 248.1 L319.9 242.6 L331.3 236.8 L342.7 229.3 L354.1 221.7 L365.5 218.2 L376.9 213.1 L388.3 208.1 L399.6 210.2 L411.0 208.1 L422.4 203.4 L433.8 201.6 L445.2 197.3 L456.6 199.7 L468.0 198.2 L479.3 196.5 L490.7 194.6 L502.1 192.7 L513.5 189.1 L524.9 179.4 L536.3 177.4 L547.6 173.4 L559.0 168.4 L570.4 167.3 L581.8 165.4 L593.2 160.4 L604.6 157.4 L616.0 154.8 L627.3 153.2 L638.7 150.0 L650.1 136.7 L661.5 134.5 L672.9 129.9 L684.3 124.3 L695.6 120.0 L707.0 116.7 L718.4 113.9" fill="none" stroke="#ffff00" stroke-width="2.1" stroke-linejoin="round" stroke-linecap="round" />
<path d="M58.1 326.9 L69.5 326.2 L80.9 326.4 L92.2 322.2 L103.6 323.1 L115.0 326.4 L126.4 323.5 L137.8 321.4 L149.2 319.1 L160.6 318.3 L171.9 319.8 L183.3 318.1 L194.7 313.9 L206.1 310.1 L217.5 308.2 L228.9 307.1 L240.2 308.5 L251.6 304.6 L263.0 299.9 L274.4 292.8 L285.8 282.8 L297.2 277.3 L308.6 279.0 L319.9 285.6 L331.3 278.1 L342.7 275.1 L354.1 267.7 L365.5 256.4 L376.9 245.3 L388.3 245.3 L399.6 240.4 L411.0 233.2 L422.4 229.3 L433.8 226.0 L445.2 221.1 L456.6 212.8 L468.0 207.8 L479.3 205.7 L490.7 204.0 L502.1 200.2 L513.5 194.6 L524.9 184.4 L536.3 179.4 L547.6 171.2 L559.0 174.2 L570.4 169.2 L581.8 158.5 L593.2 154.3 L604.6 148.5 L616.0 142.5 L627.3 131.7 L638.7 122.3 L650.1 119.3 L661.5 116.3 L672.9 108.3 L684.3 101.9 L695.6 100.7 L707.0 90.4 L718.4 95.3" fill="none" stroke="#a020f0" stroke-width="2.1" stroke-linejoin="round" stroke-linecap="round" />
<path d="M58.1 321.1 L69.5 320.2 L80.9 317.6 L92.2 324.6 L103.6 329.7 L115.0 333.0 L126.4 330.1 L137.8 325.3 L149.2 318.3 L160.6 314.8 L171.9 318.1 L183.3 320.1 L194.7 320.6 L206.1 320.1 L217.5 321.1 L228.9 319.1 L240.2 310.5 L251.6 317.1 L263.0 313.2 L274.4 312.1 L285.8 314.5 L297.2 307.1 L308.6 305.7 L319.9 305.2 L331.3 301.1 L342.7 293.3 L354.1 280.6 L365.5 277.8 L376.9 274.2 L388.3 270.1 L399.6 263.1 L411.0 255.8 L422.4 254.6 L433.8 243.9 L445.2 234.7 L456.6 229.7 L468.0 226.6 L479.3 215.2 L490.7 206.4 L502.1 208.9 L513.5 200.2 L524.9 192.2 L536.3 191.5 L547.6 191.5 L559.0 183.4 L570.4 178.3 L581.8 177.3 L593.2 170.0 L604.6 164.3 L616.0 166.2 L627.3 165.9 L638.7 159.3 L650.1 155.3 L661.5 151.0 L672.9 140.7 L684.3 129.3 L695.6 116.3 L707.0 114.3 L718.4 109.3" fill="none" stroke="#00ff00" stroke-width="2.1" stroke-linejoin="round" stroke-linecap="round" />
<path d="M58.1 387.4 L69.5 390.0 L80.9 387.4 L92.2 390.0 L103.6 392.6 L115.0 394.1 L126.4 393.1 L137.8 388.1 L149.2 386.1 L160.6 389.0 L171.9 386.1 L183.3 379.5 L194.7 376.7 L206.1 375.6 L217.5 374.0 L228.9 367.7 L240.2 364.1 L251.6 368.7 L263.0 367.7 L274.4 366.7 L285.8 367.1 L297.2 363.7 L308.6 359.7 L319.9 355.1 L331.3 352.5 L342.7 347.5 L354.1 346.0 L365.5 339.7 L376.9 333.1 L388.3 326.1 L399.6 324.5 L411.0 309.1 L422.4 305.1 L433.8 299.2 L445.2 289.7 L456.6 285.1 L468.0 278.5 L479.3 268.5 L490.7 259.2 L502.1 253.8 L513.5 249.2 L524.9 243.7 L536.3 240.2 L547.6 230.2 L559.0 228.9 L570.4 228.9 L581.8 226.9 L593.2 224.7 L604.6 222.2 L616.0 216.8 L627.3 215.2 L638.7 210.8 L650.1 206.8 L661.5 200.2 L672.9 195.2 L684.3 196.2 L695.6 198.8 L707.0 195.2 L718.4 195.2" fill="none" stroke="#0000ff" stroke-width="2.1" stroke-linejoin="round" stroke-linecap="round" />
<path d="M58.1 420.4 L69.5 415.5 L80.9 410.7 L92.2 402.1 L103.6 405.4 L115.0 407.5 L126.4 406.6 L137.8 408.6 L149.2 406.0 L160.6 403.7 L171.9 405.4 L183.3 407.0 L194.7 410.7 L206.1 412.4 L217.5 415.7 L228.9 414.1 L240.2 414.3 L251.6 412.0 L263.0 409.7 L274.4 407.5 L285.8 404.5 L297.2 404.5 L308.6 407.5 L319.9 405.0 L331.3 400.9 L342.7 402.5 L354.1 393.7 L365.5 391.8 L376.9 390.0 L388.3 385.1 L399.6 383.8 L411.0 385.4 L422.4 383.3 L433.8 381.0 L445.2 377.7 L456.6 373.8 L468.0 371.3 L479.3 376.3 L490.7 375.5 L502.1 372.7 L513.5 369.6 L524.9 360.0 L536.3 355.1 L547.6 349.6 L559.0 343.8 L570.4 341.3 L581.8 340.4 L593.2 336.9 L604.6 331.9 L616.0 317.0 L627.3 307.1 L638.7 307.1 L650.1 308.2 L661.5 299.4 L672.9 297.7 L684.3 293.9 L695.6 285.6 L707.0 277.6 L718.4 276.4" fill="none" stroke="#ffa500" stroke-width="2.1" stroke-linejoin="round" stroke-linecap="round" />
<path d="M58.1 435.0 L69.5 434.0 L80.9 433.4 L92.2 432.6 L103.6 433.6 L115.0 432.4 L126.4 427.4 L137.8 423.5 L149.2 421.4 L160.6 418.6 L171.9 416.2 L183.3 418.1 L194.7 417.1 L206.1 413.8 L217.5 409.7 L228.9 400.9 L240.2 398.0 L251.6 399.5 L263.0 397.7 L274.4 397.3 L285.8 398.6 L297.2 398.0 L308.6 390.0 L319.9 382.1 L331.3 377.1 L342.7 371.7 L354.1 368.1 L365.5 354.0 L376.9 343.1 L388.3 339.1 L399.6 337.7 L411.0 335.7 L422.4 328.1 L433.8 329.7 L445.2 325.1 L456.6 325.1 L468.0 315.7 L479.3 304.1 L490.7 296.6 L502.1 295.7 L513.5 291.2 L524.9 285.8 L536.3 279.2 L547.6 271.2 L559.0 270.6 L570.4 267.2 L581.8 263.8 L593.2 263.2 L604.6 262.6 L616.0 266.2 L627.3 265.8 L638.7 266.7 L650.1 267.1 L661.5 262.8 L672.9 255.1 L684.3 245.2 L695.6 242.7 L707.0 240.1 L718.4 241.6" fill="none" stroke="#000000" stroke-width="2.1" stroke-linejoin="round" stroke-linecap="round" />
<path d="M58.1 379.5 L69.5 376.5 L80.9 382.7 L92.2 382.7 L103.6 380.1 L115.0 376.0 L126.4 373.1 L137.8 370.1 L149.2 368.7 L160.6 372.7 L171.9 371.5 L183.3 373.1 L194.7 378.7 L206.1 379.7 L217.5 379.1 L228.9 381.1 L240.2 381.7 L251.6 377.7 L263.0 373.1 L274.4 373.1 L285.8 372.5 L297.2 370.1 L308.6 366.1 L319.9 363.7 L331.3 356.2 L342.7 353.7 L354.1 346.5 L365.5 349.1 L376.9 345.7 L388.3 344.1 L399.6 345.7 L411.0 342.5 L422.4 341.1 L433.8 341.7 L445.2 338.1 L456.6 327.7 L468.0 322.5 L479.3 320.5 L490.7 319.7 L502.1 321.7" fill="none" stroke="#ff0000" stroke-width="4.1" stroke-linejoin="round" stroke-linecap="round" />
<line x1="502.4" x2="502.4" y1="46.5" y2="450" stroke="#606060" stroke-width="1"/>
<rect x="46.5" y="46.5" width="683" height="403.7" fill="none" stroke="#7a7a7a" stroke-width="1"/>
<line x1="42" x2="46.5" y1="437.2" y2="437.2" stroke="#555" stroke-width="1"/>
<line x1="42" x2="46.5" y1="382.1" y2="382.1" stroke="#555" stroke-width="1"/>
<line x1="42" x2="46.5" y1="326.9" y2="326.9" stroke="#555" stroke-width="1"/>
<line x1="42" x2="46.5" y1="271.8" y2="271.8" stroke="#555" stroke-width="1"/>
<line x1="42" x2="46.5" y1="216.7" y2="216.7" stroke="#555" stroke-width="1"/>
<line x1="42" x2="46.5" y1="161.5" y2="161.5" stroke="#555" stroke-width="1"/>
<line x1="42" x2="46.5" y1="106.4" y2="106.4" stroke="#555" stroke-width="1"/>
<line x1="42" x2="46.5" y1="51.2" y2="51.2" stroke="#555" stroke-width="1"/>
<line y1="450" y2="454.7" x1="126.4" x2="126.4" stroke="#555" stroke-width="1"/>
<line y1="450" y2="454.7" x1="240.2" x2="240.2" stroke="#555" stroke-width="1"/>
<line y1="450" y2="454.7" x1="354.1" x2="354.1" stroke="#555" stroke-width="1"/>
<line y1="450" y2="454.7" x1="468.0" x2="468.0" stroke="#555" stroke-width="1"/>
<line y1="450" y2="454.7" x1="581.8" x2="581.8" stroke="#555" stroke-width="1"/>
<line y1="450" y2="454.7" x1="695.6" x2="695.6" stroke="#555" stroke-width="1"/>
<rect x="601.5" y="358.5" width="128" height="91.7" fill="#fff" stroke="#666" stroke-width="1"/>
<line x1="606.5" x2="620.5" y1="367.0" y2="367.0" stroke="#ff0000" stroke-width="2.6" stroke-linecap="round"/>
<line x1="606.5" x2="620.5" y1="392.8" y2="392.8" stroke="#000" stroke-width="2.0" stroke-linecap="round"/>
<line x1="606.5" x2="620.5" y1="400.9" y2="400.9" stroke="#ffa500" stroke-width="2.0" stroke-linecap="round"/>
<line x1="606.5" x2="620.5" y1="409.2" y2="409.2" stroke="#0000ff" stroke-width="2.0" stroke-linecap="round"/>
<line x1="606.5" x2="620.5" y1="417.5" y2="417.5" stroke="#00ff00" stroke-width="2.0" stroke-linecap="round"/>
<line x1="606.5" x2="620.5" y1="426.0" y2="426.0" stroke="#a020f0" stroke-width="2.0" stroke-linecap="round"/>
<line x1="606.5" x2="620.5" y1="434.4" y2="434.4" stroke="#ffff00" stroke-width="2.0" stroke-linecap="round"/>
<line x1="607.8" x2="620.5" y1="375.6" y2="375.6" stroke="#000" stroke-width="2.2" stroke-linecap="round" stroke-dasharray="1.9 6.85"/>
<line x1="607.5" x2="619.5" y1="384.3" y2="384.3" stroke="#d3d3d3" stroke-width="8.5" stroke-linecap="round"/>
<line x1="606.5" x2="620.5" y1="442.8" y2="442.8" stroke="#333" stroke-width="0.7"/>
</svg>
<div class="t c" style="left:387.8px;top:26px;font-size:8.48px;font-weight:bold">Global Sea Ice Extent Day 83 1978 to 2019</div>
<div class="t c" style="left:126.4px;top:459.5px;font-size:7.2px;font-weight:bold">50</div>
<div class="t c" style="left:240.2px;top:459.5px;font-size:7.2px;font-weight:bold">60</div>
<div class="t c" style="left:354.1px;top:459.5px;font-size:7.2px;font-weight:bold">70</div>
<div class="t c" style="left:468.0px;top:459.5px;font-size:7.2px;font-weight:bold">80</div>
<div class="t c" style="left:581.8px;top:459.5px;font-size:7.2px;font-weight:bold">90</div>
<div class="t c" style="left:695.6px;top:459.5px;font-size:7.2px;font-weight:bold">100</div>
<div class="t r" style="left:35px;top:437.2px;font-size:7.2px;font-weight:bold">16</div>
<div class="t r" style="left:35px;top:382.1px;font-size:7.2px;font-weight:bold">17</div>
<div class="t r" style="left:35px;top:326.9px;font-size:7.2px;font-weight:bold">18</div>
<div class="t r" style="left:35px;top:271.8px;font-size:7.2px;font-weight:bold">19</div>
<div class="t r" style="left:35px;top:216.7px;font-size:7.2px;font-weight:bold">20</div>
<div class="t r" style="left:35px;top:161.5px;font-size:7.2px;font-weight:bold">21</div>
<div class="t r" style="left:35px;top:106.4px;font-size:7.2px;font-weight:bold">22</div>
<div class="t r" style="left:35px;top:51.2px;font-size:7.2px;font-weight:bold">23</div>
<div class="t" style="left:18.3px;top:248.5px;font-size:7.5px;transform:translate(-50%,-50%) rotate(-90deg) scaleX(0.93)">Ice Extent in millions of sq. km.</div>
<div class="t" style="left:388.2px;top:476.3px;font-size:7.6px;transform:translateX(-50%) scaleX(0.892)">Day of Year</div>
<div class="t" style="left:387.7px;top:484.4px;font-size:7.6px;transform:translateX(-50%) scaleX(0.890)">Today's Ice Extent: 18.095&nbsp; - Record for the day: 21.212 which occurred on 2008 3 23&nbsp; - Mean: 19.93</div>
<div class="t" style="left:12.5px;top:473px;font-size:13.8px">http://sunshinehours.wordpress.com</div>
<div class="t" style="left:507px;top:317.6px;font-size:7.8px;color:#ff3838;transform-origin:left center;transform:scaleX(0.86)">18.095</div>
<div class="t" style="left:625.7px;top:363.6px;font-size:7.4px;transform-origin:left center;transform:scaleX(0.922)">2019</div>
<div class="t" style="left:625.7px;top:372.1px;font-size:7.4px;transform-origin:left center;transform:scaleX(0.922)">Mean 1981-2010</div>
<div class="t" style="left:625.7px;top:380.9px;font-size:7.4px;transform-origin:left center;transform:scaleX(0.922)">1 Standard Deviation From Mean</div>
<div class="t" style="left:625.7px;top:389.4px;font-size:7.4px;transform-origin:left center;transform:scaleX(0.922)">2018</div>
<div class="t" style="left:625.7px;top:397.5px;font-size:7.4px;transform-origin:left center;transform:scaleX(0.922)">2017</div>
<div class="t" style="left:625.7px;top:405.8px;font-size:7.4px;transform-origin:left center;transform:scaleX(0.922)">2016</div>
<div class="t" style="left:625.7px;top:414.1px;font-size:7.4px;transform-origin:left center;transform:scaleX(0.922)">2015</div>
<div class="t" style="left:625.7px;top:422.6px;font-size:7.4px;transform-origin:left center;transform:scaleX(0.922)">2014</div>
<div class="t" style="left:625.7px;top:431.0px;font-size:7.4px;transform-origin:left center;transform:scaleX(0.922)">2013</div>
<div class="t" style="left:625.7px;top:439.4px;font-size:7.4px;transform-origin:left center;transform:scaleX(0.922)">Every Other Year</div>
</div></body></html>
